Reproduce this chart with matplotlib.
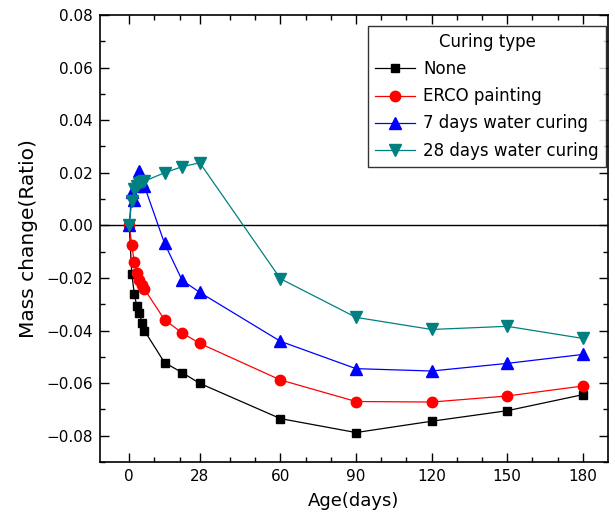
import matplotlib
matplotlib.use("Agg")
import matplotlib.pyplot as plt
from matplotlib.ticker import FixedLocator

plt.rcParams['font.family'] = ['DejaVu Sans']

days = [0, 1, 2, 3, 4, 5, 6, 14, 21, 28, 60, 90, 120, 150, 180]
none_vals = [0, -0.0184, -0.0260, -0.0308, -0.0333, -0.0371, -0.0400,
             -0.0522, -0.0560, -0.0601, -0.0735, -0.0788, -0.0745, -0.0705, -0.0644]
erco_vals = [0, -0.0074, -0.0141, -0.0181, -0.0207, -0.0226, -0.0242,
             -0.0359, -0.0409, -0.0449, -0.0588, -0.0670, -0.0672, -0.0649, -0.0611]
water7_vals = [0, 0.0125, 0.0097, 0.0150, 0.0208, 0.0165, 0.0150,
               -0.0068, -0.0209, -0.0255, -0.0441, -0.0545, -0.0554, -0.0525, -0.0491]
water28_vals = [0, 0.0093, 0.0140, 0.0150, 0.0160, 0.0165, 0.0168,
                0.0200, 0.0223, 0.0238, -0.0203, -0.0350, -0.0396, -0.0384, -0.0430]

labels = ["None", "ERCO painting", "7 days water curing", "28 days water curing"]
xticks = [0, 28, 60, 90, 120, 150, 180]
xminor = [10, 20, 40, 50, 70, 80, 100, 110, 130, 140, 160, 170]
yticks = [-0.08, -0.06, -0.04, -0.02, 0.00, 0.02, 0.04, 0.06, 0.08]
yminor = [-0.09, -0.07, -0.05, -0.03, -0.01, 0.01, 0.03, 0.05, 0.07]

fig = plt.figure(figsize=(6.15, 5.17), dpi=100)
ax = fig.add_axes([0.1626, 0.1064, 0.8260, 0.8646])

ax.axhline(0, color='black', lw=1.0, zorder=1)

styles = [
    dict(color='black', marker='s', ms=6),
    dict(color='red', marker='o', ms=7.5),
    dict(color='blue', marker='^', ms=8),
    dict(color='#008080', marker='v', ms=8),
]
for vals, lab, st in zip([none_vals, erco_vals, water7_vals, water28_vals], labels, styles):
    ax.plot(days, vals, lw=0.9, label=lab, **st, zorder=3)

ax.set_xlim(-11.6, 190)
ax.set_ylim(-0.09, 0.08)
ax.set_xticks(xticks)
ax.set_xticklabels([str(t) for t in xticks])
ax.xaxis.set_minor_locator(FixedLocator(xminor))
ax.set_yticks(yticks)
ax.set_yticklabels(["%.2f" % t if t >= 0 else "\u2212%.2f" % abs(t) for t in yticks])
ax.yaxis.set_minor_locator(FixedLocator(yminor))

ax.tick_params(which='major', direction='in', length=6.5, width=1.0, labelsize=11,
               top=True, right=True, pad=5)
ax.tick_params(which='minor', direction='in', length=3.5, width=1.0, top=True, right=True)
for s in ax.spines.values():
    s.set_linewidth(1.2)

ax.set_xlabel("Age(days)", fontsize=13, labelpad=6)
ax.set_ylabel("Mass change(Ratio)", fontsize=14.5, labelpad=6)

leg = ax.legend(title="Curing type", loc='upper right', fontsize=12, title_fontsize=12,
                bbox_to_anchor=(606 / 615, 1 - 26 / 517), bbox_transform=fig.transFigure,
                frameon=True, fancybox=False, edgecolor='black', borderaxespad=0,
                handlelength=2.4, handletextpad=0.48, labelspacing=0.55, borderpad=0.42)
leg.get_frame().set_linewidth(1.0)

fig.savefig("out.png", dpi=100)
